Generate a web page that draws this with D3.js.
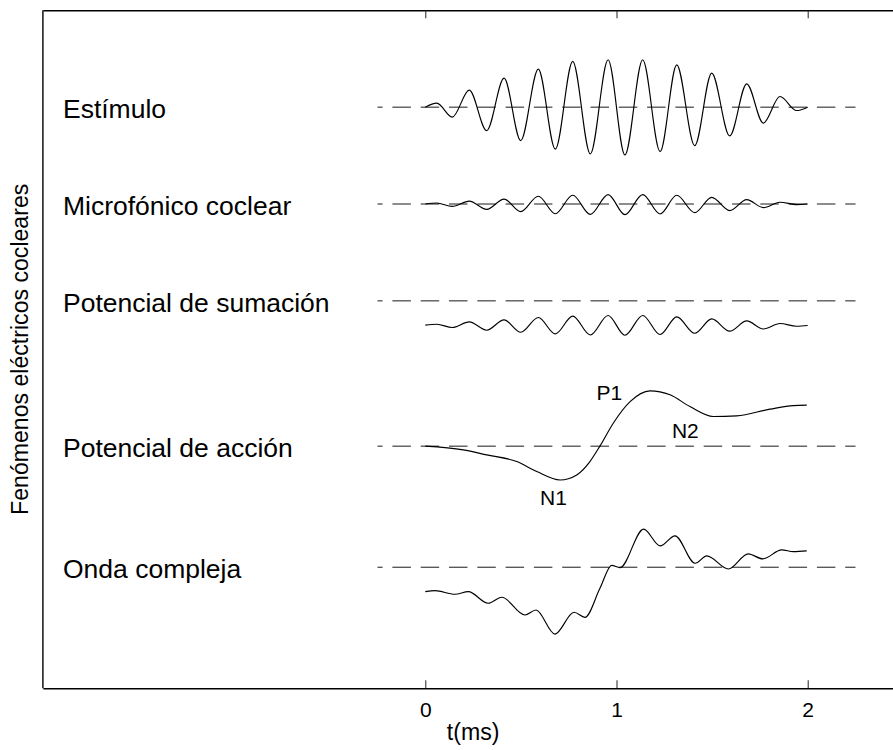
<!DOCTYPE html>
<html>
<head>
<meta charset="utf-8">
<script src="https://cdn.jsdelivr.net/npm/d3@7"></script>
<style>
  html, body { margin: 0; padding: 0; background: #fff; }
  svg { display: block; font-family: "Liberation Sans", Arial, Helvetica, sans-serif; }
</style>
</head>
<body>
<svg id="chart" width="893" height="750"></svg>
<script>
// Row names and the level of each row's reference (zero) line
const categories = ["Estímulo", "Microfónico coclear", "Potencial de sumación", "Potencial de acción", "Onda compleja"];
const baselines = [6, 5, 4, 2.5, 1.25];

// Time axis ticks (ms)
const xTicks = [0, 1, 2];
const xLabel = "t(ms)";
const yLabel = "Fenómenos eléctricos cocleares";

// Waveforms: [t (ms), amplitude relative to the row's zero line]
const estimulo = [
  [0, 0], [0.06, 0.041], [0.141, -0.103], [0.23, 0.176], [0.321, -0.242],
  [0.412, 0.300], [0.499, -0.345], [0.591, 0.393], [0.68, -0.434], [0.771, 0.472],
  [0.863, -0.483], [0.956, 0.489], [1.044, -0.493], [1.137, 0.489], [1.228, -0.459],
  [1.315, 0.437], [1.409, -0.397], [1.498, 0.352], [1.592, -0.297], [1.681, 0.241],
  [1.768, -0.165], [1.855, 0.110], [1.942, -0.035], [2.0, 0]
];
const microfonico = [
  [0, 0], [0.06, 0.01], [0.141, -0.025], [0.23, 0.03], [0.321, -0.055],
  [0.412, 0.05], [0.499, -0.078], [0.591, 0.08], [0.68, -0.1], [0.771, 0.09],
  [0.863, -0.107], [0.956, 0.097], [1.044, -0.11], [1.137, 0.097], [1.228, -0.103],
  [1.315, 0.09], [1.409, -0.089], [1.498, 0.069], [1.592, -0.068], [1.681, 0.045],
  [1.768, -0.037], [1.855, 0.018], [1.942, -0.006], [2.0, 0]
];
const sumacion = [
  [0, -0.251], [0.06, -0.241], [0.141, -0.275], [0.23, -0.217], [0.321, -0.303],
  [0.412, -0.196], [0.499, -0.324], [0.591, -0.172], [0.68, -0.341], [0.771, -0.158],
  [0.863, -0.352], [0.956, -0.151], [1.044, -0.355], [1.137, -0.151], [1.228, -0.347],
  [1.315, -0.165], [1.409, -0.334], [1.498, -0.186], [1.592, -0.313], [1.681, -0.207],
  [1.768, -0.290], [1.855, -0.234], [1.942, -0.262], [2.0, -0.254]
];
const accion = [
  [0, 0], [0.199, -0.039], [0.321, -0.090], [0.478, -0.159], [0.583, -0.262],
  [0.705, -0.349], [0.792, -0.297], [0.861, -0.159], [0.914, 0.003], [0.983, 0.237],
  [1.071, 0.460], [1.175, 0.571], [1.280, 0.530], [1.384, 0.409], [1.506, 0.306],
  [1.629, 0.313], [1.803, 0.382], [1.925, 0.419], [1.995, 0.423]
];
const compleja = [
  [0, -0.252], [0.051, -0.242], [0.155, -0.279], [0.225, -0.252], [0.329, -0.372],
  [0.400, -0.310], [0.521, -0.493], [0.579, -0.442], [0.678, -0.690], [0.778, -0.465],
  [0.835, -0.517], [0.914, -0.214], [0.975, 0.019], [1.018, -0.004], [1.142, 0.393],
  [1.228, 0.220], [1.306, 0.324], [1.411, 0.041], [1.472, 0.117], [1.585, -0.018],
  [1.689, 0.138], [1.765, 0.086], [1.864, 0.179], [1.925, 0.161], [1.995, 0.169]
];
const waveforms = [estimulo, microfonico, sumacion, accion, compleja];

// Component markers on the action potential, in axis coordinates
const peakLabels = ["P1", "N1", "N2"];
const peakT = [0.896, 0.600, 1.290];
const peakY = [3.054, 1.970, 2.658];

// Extent of each dashed zero line (ms)
const refSpan = [-0.25, 2.25];

// ---------------------------------------------------------------
const svg = d3.select("#chart");
const margin = { left: 42.9, top: 10.3 };
const plotW = 860.4, plotH = 678;
const tickFont = 21, labelFont = 23.1, rowFont = 26.5;

const x = d3.scaleLinear().domain([-2, 2.5]).range([margin.left, margin.left + plotW]);
const y = d3.scaleLinear().domain([0, 7]).range([margin.top + plotH, margin.top]);

const g = svg.append("g");

// Dashed zero lines
g.selectAll("line.ref")
  .data(baselines)
  .join("line")
  .attr("class", "ref")
  .attr("x1", x(refSpan[0])).attr("x2", x(refSpan[1]))
  .attr("y1", d => y(d)).attr("y2", d => y(d))
  .attr("stroke", "#1a1a1a")
  .attr("stroke-width", 1)
  .attr("stroke-dasharray", "18.5,9.8")
  .attr("stroke-dashoffset", 13.4);

// Waveforms
const line = d3.line().curve(d3.curveMonotoneX);
g.selectAll("path.wave")
  .data(waveforms)
  .join("path")
  .attr("class", "wave")
  .attr("fill", "none")
  .attr("stroke", "#000")
  .attr("stroke-width", 1.15)
  .attr("d", (d, i) => line(d.map(p => [x(p[0]), y(baselines[i] + p[1])])));

// Row labels
g.selectAll("text.row")
  .data(categories)
  .join("text")
  .attr("class", "row")
  .attr("x", x(-1.895))
  .attr("y", (d, i) => y(baselines[i]) + 11)
  .attr("font-size", rowFont)
  .attr("fill", "#000")
  .text(d => d);

// P1 / N1 / N2 markers
g.selectAll("text.peak")
  .data(peakLabels)
  .join("text")
  .attr("class", "peak")
  .attr("x", (d, i) => x(peakT[i]))
  .attr("y", (d, i) => y(peakY[i]))
  .attr("dy", "0.36em")
  .attr("font-size", tickFont)
  .attr("fill", "#000")
  .text(d => d);

// Axes (ticks drawn inward)
const axB = d3.axisBottom(x).tickValues(xTicks).tickFormat(d3.format("d"))
  .tickSizeInner(-8).tickSizeOuter(0).tickPadding(13.5);
const axT = d3.axisTop(x).tickValues(xTicks).tickFormat("")
  .tickSizeInner(-8).tickSizeOuter(0);

const gb = svg.append("g").attr("transform", `translate(0,${y(0)})`).call(axB);
const gt = svg.append("g").attr("transform", `translate(0,${y(7)})`).call(axT);
[gb, gt].forEach(a => {
  a.select(".domain").attr("stroke", "#000").attr("stroke-width", 1.4);
  a.selectAll(".tick line").attr("stroke", "#222").attr("stroke-width", 1);
  a.selectAll(".tick text").attr("font-size", tickFont).attr("fill", "#000")
    .attr("font-family", "Liberation Sans, Arial, sans-serif");
});

// Left axis line
svg.append("line")
  .attr("x1", x(-2)).attr("x2", x(-2))
  .attr("y1", y(0)).attr("y2", y(7))
  .attr("stroke", "#000").attr("stroke-width", 1.4);

// Axis titles
svg.append("text")
  .attr("x", x(0.25))
  .attr("y", 740)
  .attr("text-anchor", "middle")
  .attr("font-size", labelFont)
  .attr("fill", "#000")
  .text(xLabel);

svg.append("text")
  .attr("transform", `translate(28,${y(3.5)}) rotate(-90)`)
  .attr("text-anchor", "middle")
  .attr("font-size", labelFont)
  .attr("fill", "#000")
  .text(yLabel);
</script>
</body>
</html>
